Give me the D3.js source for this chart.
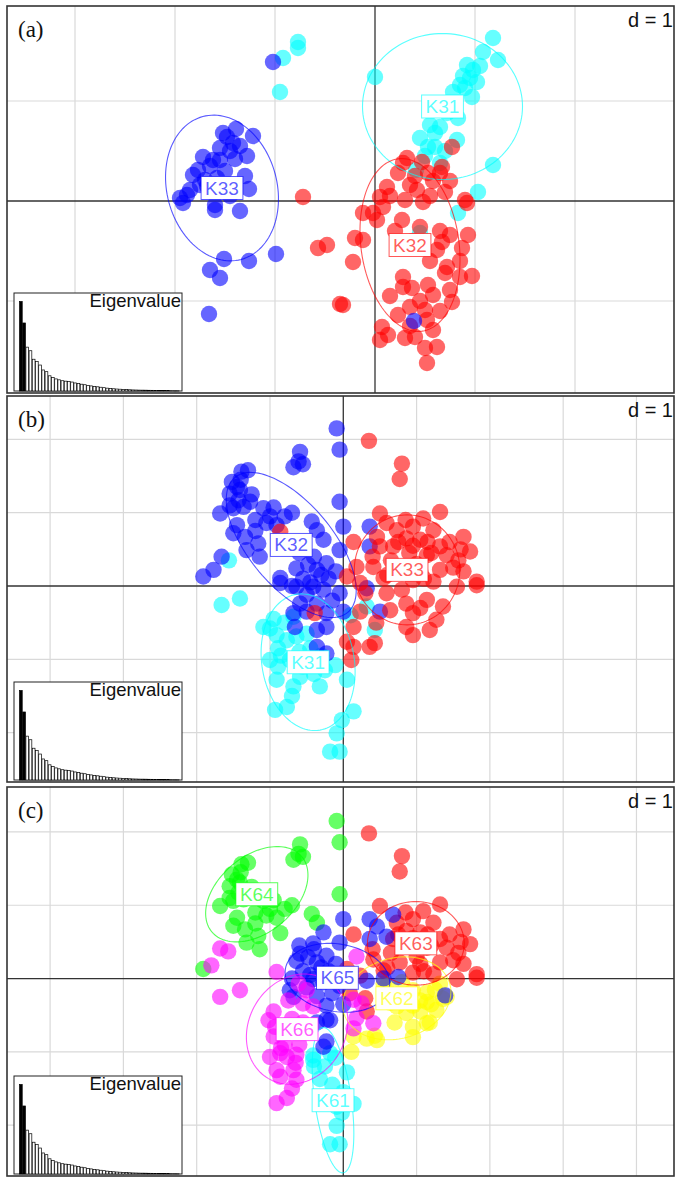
<!DOCTYPE html>
<html><head><meta charset="utf-8">
<script src="https://cdn.jsdelivr.net/npm/d3@7"></script>
<style>body{margin:0;background:#fff} svg{display:block}</style>
</head><body><svg id="chart" width="680" height="1184"></svg>
<script>
// ---------------- DATA ----------------
const eigenvalues = [100,76,49,45,35.5,33,29,23.5,21.6,17,15,13.5,12.5,11.5,11,10.5,10,9,8.3,7.6,7,6.3,5.7,5.2,4.7,4.2,3.7,3.2,2.8,2.5,2.2,2,1.8,1.6,1.4,1.2,1.1,1.0,0.95,0.9,0.8,0.75,0.7,0.6,0.5,0.45,0.4,0.35,0.3,0.25];
const eigenRetained = 2;
const panelTags = ["(a)", "(b)", "(c)"];
const gridText = "d = 1";
const insetTitle = "Eigenvalue";

// axis limits (discriminant function units)
const xlimA = [-3.68, 2.99], ylimA = [-1.92, 1.95];
const xlimB = [-4.588, 4.512], ylimB = [-2.674, 2.592];
const xlimC = [-4.588, 4.512], ylimC = [-2.694, 2.613];

// panel (a): K = 3
const groupsA = ["K31", "K32", "K33"];
const a_K31 = [[-0.77,1.59],[-0.77,1.53],[-0.92,1.43],[-0.95,1.09],[1.18,1.63],[1.08,1.49],[1.23,1.41],[0.92,1.36],[0.98,1.31],[0.95,1.23],[1.02,1.19],[0.85,1.16],[0.78,1.09],[0.97,1.04],[0.00,1.24],[0.83,0.83],[0.55,0.76],[0.65,0.74],[0.45,0.63],[0.53,0.54],[0.60,0.54],[0.82,0.61],[1.18,0.36],[0.41,0.31],[0.65,0.38],[1.03,0.09],[0.83,-0.12],[0.45,-0.32],[0.90,1.13],[0.75,0.96],[1.05,1.35],[0.88,1.25],[0.72,0.88],[0.60,0.68],[0.70,0.50],[0.50,0.45]];
const a_K32 = [[-0.72,0.04],[-0.57,-0.47],[-0.48,-0.44],[-0.35,-1.03],[0.77,0.54],[0.32,0.43],[0.47,0.39],[0.23,0.28],[0.67,0.34],[0.53,0.28],[0.65,0.28],[0.12,0.14],[0.35,0.16],[0.42,0.11],[0.70,0.09],[0.05,0.04],[0.90,0.01],[-0.02,-0.12],[0.08,-0.06],[0.02,-0.19],[-0.12,-0.12],[0.27,-0.19],[0.45,-0.26],[0.30,0.01],[0.48,-0.01],[0.92,-0.02],[-0.20,-0.37],[-0.12,-0.39],[-0.22,-0.61],[0.75,-0.34],[0.93,-0.34],[0.67,-0.41],[0.87,-0.47],[0.62,-0.49],[0.72,-0.66],[0.70,-0.72],[0.85,-0.76],[0.97,-0.75],[0.28,-0.76],[0.28,-0.86],[0.37,-0.87],[0.53,-0.84],[0.58,-0.94],[0.75,-0.89],[0.77,-1.01],[-0.32,-1.04],[0.35,-1.06],[0.50,-1.09],[0.23,-1.14],[0.07,-1.26],[0.52,-1.19],[0.58,-1.29],[0.13,-1.34],[0.05,-1.39],[0.30,-1.37],[0.40,-1.36],[0.50,-1.47],[0.62,-1.46],[0.52,-1.62],[0.28,0.38],[0.40,0.25],[0.58,0.20],[0.75,0.20],[0.15,0.05],[0.55,0.05],[0.20,-0.30],[0.38,-0.40],[0.55,-0.60],[0.65,-0.30],[0.85,-0.60],[0.45,-1.00],[0.35,-1.25],[0.65,-1.10],[0.15,-0.95]];
const a_K33 = [[-1.02,1.39],[-1.39,0.72],[-1.22,0.65],[-1.52,0.68],[-1.48,0.64],[-1.42,0.58],[-1.55,0.53],[-1.28,0.45],[-1.72,0.44],[-1.62,0.41],[-1.55,0.41],[-1.40,0.42],[-1.77,0.31],[-1.82,0.26],[-1.58,0.23],[-1.26,0.12],[-1.88,0.06],[-1.95,0.03],[-1.92,-0.02],[-1.60,-0.04],[-1.60,-0.09],[-1.51,-0.58],[-1.26,-0.60],[-0.99,-0.53],[-1.65,-0.69],[-1.55,-0.77],[-1.66,-1.13],[0.39,-1.20],[-1.75,0.16],[-1.85,0.11],[-1.70,0.21],[-1.45,0.50],[-1.35,0.55],[-1.65,0.35],[-1.50,0.30],[-1.30,0.25],[-1.68,0.15],[-1.45,0.05],[-1.35,-0.10]];
// ellipses: [centreX, centreY, semiAxis1, semiAxis2, angle of axis1 (deg)]
const ellA = [[0.675,0.945,0.80,0.73,0],[0.35,-0.44,0.87,0.49,98],[-1.53,0.13,0.74,0.55,105]];

// panel (b): K = 3
const groupsB = ["K31", "K32", "K33"];
const b_K31 = [[-1.66,-0.26],[-1.41,-0.17],[-1.56,0.35],[-1.09,-0.56],[-1.00,-0.58],[-0.91,-0.67],[-0.77,-0.74],[-0.89,-0.85],[-0.64,-0.69],[-0.50,-0.65],[-0.68,-0.42],[0.43,-0.60],[0.32,-0.28],[-1.00,-1.01],[-0.89,-1.10],[-0.73,-1.01],[-0.55,-1.10],[-0.11,-1.08],[-0.91,-1.28],[-0.68,-1.37],[-0.32,-1.37],[0.05,-1.28],[-0.59,-1.24],[-0.93,-1.69],[-0.77,-1.65],[0.14,-1.71],[-0.02,-1.83],[-0.09,-2.01],[-0.18,-2.26],[-0.05,-2.26],[-0.80,-0.50],[-0.45,-0.85],[-0.30,-0.95],[-0.25,-1.15],[0.10,-0.40],[-0.95,-0.45],[-0.60,-0.90],[-0.85,-0.95],[-0.40,-1.20],[-0.70,-1.50]];
const b_K32 = [[-0.09,2.15],[-0.05,1.86],[-0.59,1.83],[-0.68,1.62],[-0.55,1.66],[-0.61,1.70],[-1.39,1.56],[-1.30,1.58],[-1.52,1.42],[-1.41,1.31],[-1.55,1.26],[-1.43,1.17],[-1.27,1.15],[-1.68,0.99],[-1.50,1.06],[-1.36,1.08],[-1.09,1.06],[-0.95,1.07],[-0.05,1.15],[-1.20,0.90],[-1.05,0.86],[-0.91,0.83],[-1.45,0.83],[-1.50,0.72],[-1.34,0.67],[-0.43,0.88],[-0.36,0.76],[0,0.81],[-0.27,0.63],[-1.32,0.49],[-1.16,0.58],[-1.14,0.40],[-1.66,0.40],[-1.77,0.22],[-1.91,0.13],[-0.64,0.24],[-0.48,0.29],[-0.36,0.22],[-0.23,0.31],[-0.05,0.49],[-0.86,0.11],[0.36,0.81],[0.36,0.54],[-0.86,0.04],[-0.64,-0.01],[-0.41,-0.01],[-0.27,-0.05],[-0.05,-0.10],[0.32,-0.03],[-0.59,-0.24],[-0.36,-0.24],[-0.68,-0.37],[-0.23,-0.37],[0,-0.35],[0.50,-0.35],[-0.66,-0.56],[-0.36,-0.60],[-0.23,-0.56],[-0.36,-0.83],[-0.23,-0.92],[-0.55,0.10],[-0.45,0.05],[-0.30,0.15],[-0.50,-0.12],[-1.45,1.35],[-1.40,1.45],[-0.40,0.40],[-0.20,0.10],[-0.10,0.20],[-0.60,0.45],[-0.50,-0.35],[-0.15,-0.20],[-0.70,0.00],[-1.55,1.10],[-1.25,1.25],[-1.00,0.95],[-1.20,0.75],[-0.80,0.95],[-0.70,1.00]];
const b_K33 = [[0.35,1.98],[0.80,1.67],[0.77,1.46],[0.50,0.99],[1.32,1.01],[1.09,0.92],[0.59,0.86],[0.73,0.76],[0.95,0.81],[1.23,0.76],[1.64,0.67],[0.46,0.67],[0.86,0.65],[1.05,0.63],[0.14,0.60],[0.68,0.54],[0.50,0.54],[1.32,0.54],[1.73,0.47],[1.14,0.42],[1.41,0.42],[1.57,0.35],[0.18,0.26],[0.41,0.26],[0.77,0.22],[1.32,0.22],[1.64,0.20],[0.05,0.13],[0.55,0.11],[0.95,0.08],[1.23,0.06],[1.82,0.06],[-0.86,0.74],[0.23,0.04],[0.59,-0.10],[0.86,-0.24],[1.14,-0.19],[1.36,-0.28],[1.55,-0.01],[1.82,0.01],[0.95,-0.37],[1.27,-0.46],[0.86,-0.56],[0.95,-0.67],[1.18,-0.60],[0.23,-0.35],[0.14,-0.56],[0.05,-0.76],[0.14,-0.83],[0.36,-0.83],[0.43,-0.78],[0.11,-1.01],[-0.39,-0.37],[0.64,-0.33],[0.90,0.45],[1.00,0.30],[0.65,0.35],[1.15,0.60],[0.85,0.90],[1.45,0.60],[0.60,0.15],[1.10,0.10],[0.95,0.55],[1.20,0.45],[0.75,0.60],[1.05,0.20],[1.50,0.25],[0.40,0.40],[1.60,0.50],[0.80,-0.05],[1.05,-0.30],[0.30,-0.10],[0.45,-0.50]];
const ellB = [[-0.48,-1.04,0.94,0.63,100],[-0.71,0.56,1.20,0.57,130],[0.87,0.22,0.75,0.72,90]];

// panel (c): K = 6
const groupsC = ["K61", "K62", "K63", "K64", "K65", "K66"];
const c_K61 = [[-0.11,-1.08],[-0.02,-1.83],[-0.09,-2.01],[-0.18,-2.26],[-0.05,-2.26],[0.14,-1.71],[0.05,-1.28],[-0.32,-1.37],[-0.41,-1.11],[-0.18,-1.02],[-0.09,-1.75],[-0.41,-1.05],[-0.25,-1.20],[-0.40,-1.20],[-0.15,-1.45],[0.00,-1.55]];
const c_K62 = [[0.59,-0.10],[0.95,-0.16],[1.14,-0.32],[1.27,-0.43],[0.86,-0.47],[0.95,-0.66],[1.14,-0.61],[0.73,-0.38],[0.32,-0.82],[0.46,-0.84],[0.11,-1.00],[0.14,-0.79],[1.41,-0.25],[1.32,-0.07],[0.55,-0.07],[0.86,-0.24],[1.14,-0.19],[1.36,-0.28],[0.95,-0.37],[1.18,-0.60],[0.64,-0.33],[1.05,-0.45],[0.43,-0.78],[0.80,-0.05],[1.05,-0.30],[1.25,-0.15],[0.70,-0.60],[0.95,-0.80],[1.20,-0.35]];
const c_K63 = [[0.35,1.98],[0.80,1.67],[0.77,1.46],[0.50,0.99],[1.32,1.01],[1.09,0.92],[0.73,0.76],[0.95,0.81],[1.23,0.76],[1.64,0.67],[0.86,0.65],[1.05,0.63],[0.14,0.60],[0.68,0.54],[1.32,0.54],[1.73,0.47],[1.14,0.42],[1.41,0.42],[1.57,0.35],[0.41,0.26],[0.77,0.22],[1.32,0.22],[1.64,0.20],[0.05,0.13],[0.55,0.11],[0.95,0.08],[1.23,0.06],[1.82,0.06],[0.23,0.04],[1.55,-0.01],[1.82,0.01],[0.90,0.45],[1.00,0.30],[0.65,0.35],[1.15,0.60],[0.85,0.90],[1.45,0.60],[0.60,0.15],[1.10,0.10],[0.09,-0.20],[0.30,-0.27],[0.32,-0.45],[0.95,0.55],[1.20,0.45],[0.75,0.60],[1.05,0.20],[1.50,0.25],[0.40,0.40],[1.60,0.50]];
const c_K64 = [[-0.09,2.15],[-0.05,1.86],[-0.59,1.83],[-0.68,1.62],[-0.55,1.66],[-0.61,1.70],[-1.39,1.56],[-1.30,1.58],[-1.52,1.42],[-1.41,1.31],[-1.55,1.26],[-1.43,1.17],[-1.27,1.15],[-1.68,0.99],[-1.50,1.06],[-1.36,1.08],[-1.09,1.06],[-0.95,1.07],[-0.05,1.15],[-1.20,0.90],[-1.05,0.86],[-0.91,0.83],[-1.45,0.83],[-1.50,0.72],[-1.34,0.67],[-0.43,0.88],[-0.36,0.76],[-1.32,0.49],[-1.16,0.58],[-1.14,0.40],[-1.91,0.13],[-1.45,1.35],[-1.40,1.45],[-0.86,0.62],[-1.55,1.10],[-1.25,1.25],[-1.00,0.95],[-1.20,0.75],[-0.80,0.95],[-0.70,1.00]];
const c_K65 = [[0,0.81],[-0.27,0.63],[-0.64,0.24],[-0.48,0.29],[-0.36,0.22],[-0.23,0.31],[-0.05,0.49],[0.36,0.81],[0.36,0.54],[0.68,0.87],[0.59,0.57],[0.46,0.71],[-0.41,-0.01],[-0.27,-0.05],[-0.05,-0.10],[0.32,-0.03],[-0.36,-0.24],[-0.23,-0.37],[0,-0.35],[-0.36,-0.60],[-0.23,-0.56],[-0.27,-0.93],[-0.23,-0.86],[-0.55,0.10],[-0.45,0.05],[-0.30,0.15],[-0.50,-0.12],[1.39,-0.23],[-0.41,0.48],[-0.59,0.34],[-0.73,-0.16],[-0.68,-0.25],[-0.18,-0.57],[0.55,0.0],[0.75,0.02],[-0.40,0.40],[-0.20,0.10],[-0.10,0.20],[-0.60,0.45],[-0.15,-0.20],[-0.70,0.00]];
const c_K66 = [[-1.68,-0.25],[-1.41,-0.16],[-1.02,-0.57],[-0.93,-0.66],[-0.95,-0.79],[-0.80,-0.74],[-1.00,-1.07],[-0.86,-1.02],[-0.77,-1.07],[-0.64,-1.04],[-0.91,-1.25],[-0.68,-1.25],[-0.86,-1.34],[-0.64,-1.38],[-0.91,-1.70],[-0.77,-1.63],[-0.61,-0.07],[-0.50,-0.16],[-0.55,-0.34],[-0.41,-0.38],[0.14,-0.29],[0.25,-0.34],[0.18,-0.54],[0.41,-0.61],[0.14,-0.68],[-1.68,0.41],[-1.57,0.37],[-1.80,0.18],[-0.91,0.09],[0.18,0.30],[-0.80,-0.90],[-0.70,-0.55],[-0.55,-0.60],[-0.95,-0.45],[-0.85,-0.95],[-0.70,-1.50],[-0.60,-0.90],[-0.75,-0.30],[-0.65,-1.15]];
const ellC = [[-0.14,-1.66,1.0,0.25,98],[0.73,-0.27,0.75,0.55,15],[0.99,0.48,0.66,0.57,0],[-1.18,1.15,0.80,0.52,40],[-0.08,0.01,0.72,0.46,170],[-0.63,-0.69,0.78,0.66,60]];

// ---------------- DRAWING ----------------
const svg = d3.select("#chart");
const left = 7, right = 674;
const sans = "'Liberation Sans', Arial, sans-serif";
const serif = "'Liberation Serif', 'Times New Roman', serif";

function drawPanel(idx, top, bottom, xlim, ylim, groups, colors, pointSets, ells) {
  const g = svg.append("g");
  const x = d3.scaleLinear().domain(xlim).range([left, right]);
  const y = d3.scaleLinear().domain(ylim).range([bottom, top]);
  const clipId = "clip" + idx;
  g.append("clipPath").attr("id", clipId).append("rect")
    .attr("x", left).attr("y", top).attr("width", right - left).attr("height", bottom - top);
  const body = g.append("g").attr("clip-path", `url(#${clipId})`);

  const xs = d3.range(Math.ceil(xlim[0]), Math.floor(xlim[1]) + 1).filter(v => v !== 0);
  const ys = d3.range(Math.ceil(ylim[0]), Math.floor(ylim[1]) + 1).filter(v => v !== 0);
  body.selectAll(".gx").data(xs).join("line")
    .attr("x1", d => x(d)).attr("x2", d => x(d)).attr("y1", top).attr("y2", bottom)
    .attr("stroke", "#d9d9d9").attr("stroke-width", 1.2);
  body.selectAll(".gy").data(ys).join("line")
    .attr("y1", d => y(d)).attr("y2", d => y(d)).attr("x1", left).attr("x2", right)
    .attr("stroke", "#d9d9d9").attr("stroke-width", 1.2);
  body.append("line").attr("x1", x(0)).attr("x2", x(0)).attr("y1", top).attr("y2", bottom)
    .attr("stroke", "#333").attr("stroke-width", 1.3);
  body.append("line").attr("y1", y(0)).attr("y2", y(0)).attr("x1", left).attr("x2", right)
    .attr("stroke", "#333").attr("stroke-width", 1.3);

  pointSets.forEach((pts, gi) => {
    body.append("g").selectAll("circle").data(pts).join("circle")
      .attr("cx", d => x(d[0])).attr("cy", d => y(d[1])).attr("r", 8.2)
      .attr("fill", colors[gi]).attr("fill-opacity", 0.6);
  });

  const line = d3.line().x(d => x(d[0])).y(d => y(d[1])).curve(d3.curveLinearClosed);
  ells.forEach((e, gi) => {
    const [cx, cy, a, b, ang] = e;
    const th = ang * Math.PI / 180;
    const pts = d3.range(0, 120).map(i => {
      const t = i / 120 * 2 * Math.PI;
      return [cx + a * Math.cos(t) * Math.cos(th) - b * Math.sin(t) * Math.sin(th),
              cy + a * Math.cos(t) * Math.sin(th) + b * Math.sin(t) * Math.cos(th)];
    });
    body.append("path").attr("d", line(pts)).attr("fill", "none")
      .attr("stroke", colors[gi]).attr("stroke-opacity", 0.65).attr("stroke-width", 1.1);
  });

  ells.forEach((e, gi) => {
    const lg = body.append("g");
    const t = lg.append("text").attr("x", x(e[0])).attr("y", y(e[1]) + 6.5)
      .attr("text-anchor", "middle").attr("font-family", sans).attr("font-size", 19)
      .attr("fill", colors[gi]).attr("fill-opacity", 0.65).text(groups[gi]);
    const w = t.node().getComputedTextLength();
    lg.insert("rect", "text").attr("x", x(e[0]) - w / 2 - 4).attr("y", y(e[1]) - 11.5)
      .attr("width", w + 8).attr("height", 23).attr("fill", "#fff")
      .attr("stroke", colors[gi]).attr("stroke-opacity", 0.65).attr("stroke-width", 1);
  });

  const bx0 = left + 7, bx1 = left + 175, by0 = bottom - 100, by1 = bottom - 2;
  const ig = g.append("g");
  ig.append("rect").attr("x", bx0).attr("y", by0).attr("width", bx1 - bx0).attr("height", by1 - by0)
    .attr("fill", "#fff").attr("stroke", "#222").attr("stroke-width", 1);
  const xb = d3.scaleBand().domain(d3.range(eigenvalues.length)).range([bx0 + 5.5, bx0 + 165]).paddingInner(0.15);
  const yb = d3.scaleLinear().domain([0, d3.max(eigenvalues)]).range([by1, by0 + 8.5]);
  ig.selectAll(".bar").data(eigenvalues).join("rect")
    .attr("x", (d, i) => xb(i)).attr("width", xb.bandwidth())
    .attr("y", d => yb(d)).attr("height", d => by1 - yb(d))
    .attr("fill", (d, i) => i < eigenRetained ? "#000" : "#fff")
    .attr("stroke", "#000").attr("stroke-width", 0.7);
  ig.append("text").attr("x", bx1 - 1).attr("y", by0 + 14).attr("text-anchor", "end")
    .attr("font-family", sans).attr("font-size", 18.5).attr("fill", "#111").text(insetTitle);

  g.append("text").attr("x", 673).attr("y", top + 21).attr("text-anchor", "end")
    .attr("font-family", sans).attr("font-size", 20).attr("fill", "#111").text(gridText);
  g.append("text").attr("x", left + 11).attr("y", top + 31)
    .attr("font-family", serif).attr("font-size", 23).attr("fill", "#111").text(panelTags[idx]);

  g.append("rect").attr("x", left).attr("y", top).attr("width", right - left).attr("height", bottom - top)
    .attr("fill", "none").attr("stroke", "#333").attr("stroke-width", 1.6);
}

drawPanel(0, 6, 393, xlimA, ylimA, groupsA, ["#00FFFF", "#FF0000", "#0000FF"], [a_K31, a_K32, a_K33], ellA);
drawPanel(1, 396, 782, xlimB, ylimB, groupsB, ["#00FFFF", "#0000FF", "#FF0000"], [b_K31, b_K32, b_K33], ellB);
drawPanel(2, 787, 1176, xlimC, ylimC, groupsC, ["#00FFFF", "#FFFF00", "#FF0000", "#00FF00", "#0000FF", "#FF00FF"], [c_K61, c_K62, c_K63, c_K64, c_K65, c_K66], ellC);
</script></body></html>
